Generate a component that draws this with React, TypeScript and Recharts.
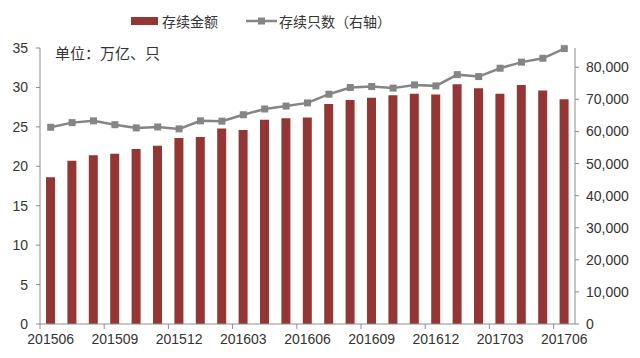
import { Bar, ComposedChart, Line, XAxis, YAxis } from "recharts";

const months = [
  "201506", "201507", "201508", "201509", "201510", "201511", "201512",
  "201601", "201602", "201603", "201604", "201605", "201606", "201607",
  "201608", "201609", "201610", "201611", "201612", "201701", "201702",
  "201703", "201704", "201705", "201706",
];

// 存续金额 (万亿)
const amounts = [
  18.6, 20.7, 21.4, 21.6, 22.2, 22.6, 23.6, 23.7, 24.8, 24.6, 25.9, 26.1,
  26.2, 27.9, 28.4, 28.7, 29.0, 29.2, 29.1, 30.4, 29.9, 29.2, 30.3, 29.6, 28.5,
];

// 存续只数 (只)
const counts = [
  61300, 62750, 63300, 62100, 61100, 61400, 60800, 63300, 63200, 65200,
  67000, 67900, 68900, 71600, 73700, 74000, 73500, 74500, 74200, 77700,
  77100, 79700, 81600, 82800, 85800,
];

const leftTicks = [0, 5, 10, 15, 20, 25, 30, 35];
const rightTicks = [0, 10000, 20000, 30000, 40000, 50000, 60000, 70000, 80000];

const data = months.map((m, i) => ({ month: m, amount: amounts[i], count: counts[i] }));

const BAR = "#943634";
const LINE = "#858585";
const AXIS = "#8c8c8c";
const TEXT = "#333";
const NUM_FONT = "'Liberation Sans', Arial, sans-serif";
const CJK_FONT = "'Noto Sans CJK SC', sans-serif";

const MonthTick = (props: any) => {
  const { x, y, payload } = props;
  const half = payload.offset ?? 10.7;
  return (
    <g>
      <line x1={x - half} x2={x - half} y1={y - 8} y2={y - 3} stroke={AXIS} />
      <text
        x={x}
        y={y + 12}
        textAnchor="middle"
        fontSize={14}
        fontFamily={NUM_FONT}
        fill={TEXT}
      >
        {payload.value}
      </text>
    </g>
  );
};

const ChartLegend = () => (
  <div
    style={{
      position: "absolute",
      left: 131,
      top: 11,
      display: "flex",
      alignItems: "center",
      fontFamily: CJK_FONT,
      fontSize: 14,
      color: TEXT,
    }}
  >
    <svg width={27} height={10}>
      <rect x={0} y={1} width={27} height={8} fill={BAR} />
    </svg>
    <span style={{ marginLeft: 4 }}>存续金额</span>
    <svg width={31} height={10} style={{ marginLeft: 28 }}>
      <line x1={0} x2={31} y1={5} y2={5} stroke={LINE} strokeWidth={2.5} />
      <rect x={12} y={1.5} width={7} height={7} fill={LINE} />
    </svg>
    <span style={{ marginLeft: 2 }}>存续只数（右轴）</span>
  </div>
);

const SquareDot = (props: any) => {
  const { cx, cy } = props;
  if (cx == null || cy == null) return null;
  return <rect x={cx - 3.5} y={cy - 3.5} width={7} height={7} fill={LINE} />;
};

export default function App() {
  return (
    <div style={{ position: "absolute", left: 0, top: 0, width: 640, height: 358, background: "#fff" }}>
      <ComposedChart
        width={640}
        height={358}
        data={data}
        margin={{ top: 48, right: 10, bottom: 10, left: 10 }}
        barCategoryGap={0}
      >
        <XAxis
          dataKey="month"
          interval={2}
          height={24}
          stroke={AXIS}
          tickLine={false}
          tick={<MonthTick />}
        />
        <YAxis
          yAxisId="left"
          domain={[0, 35]}
          ticks={leftTicks}
          width={30}
          stroke={AXIS}
          tickSize={4}
          tickMargin={8}
          tick={{ fill: TEXT, fontSize: 14, fontFamily: NUM_FONT }}
        />
        <YAxis
          yAxisId="right"
          orientation="right"
          domain={[0, 86000]}
          ticks={rightTicks}
          width={55}
          stroke={AXIS}
          tickSize={4}
          tickMargin={7}
          tickFormatter={(v) => v.toLocaleString("en-US")}
          tick={{ fill: TEXT, fontSize: 14, fontFamily: NUM_FONT, textAnchor: "start" }}
        />
        <Bar
          yAxisId="left"
          dataKey="amount"
          fill={BAR}
          barSize={9}
          isAnimationActive={false}
        />
        <Line
          yAxisId="right"
          dataKey="count"
          stroke={LINE}
          strokeWidth={2.5}
          dot={<SquareDot />}
          activeDot={false}
          isAnimationActive={false}
        />
      </ComposedChart>
      <ChartLegend />
      <div
        style={{
          position: "absolute",
          left: 55,
          top: 42,
          fontFamily: CJK_FONT,
          fontSize: 15,
          color: TEXT,
        }}
      >
        单位：万亿、只
      </div>
    </div>
  );
}
